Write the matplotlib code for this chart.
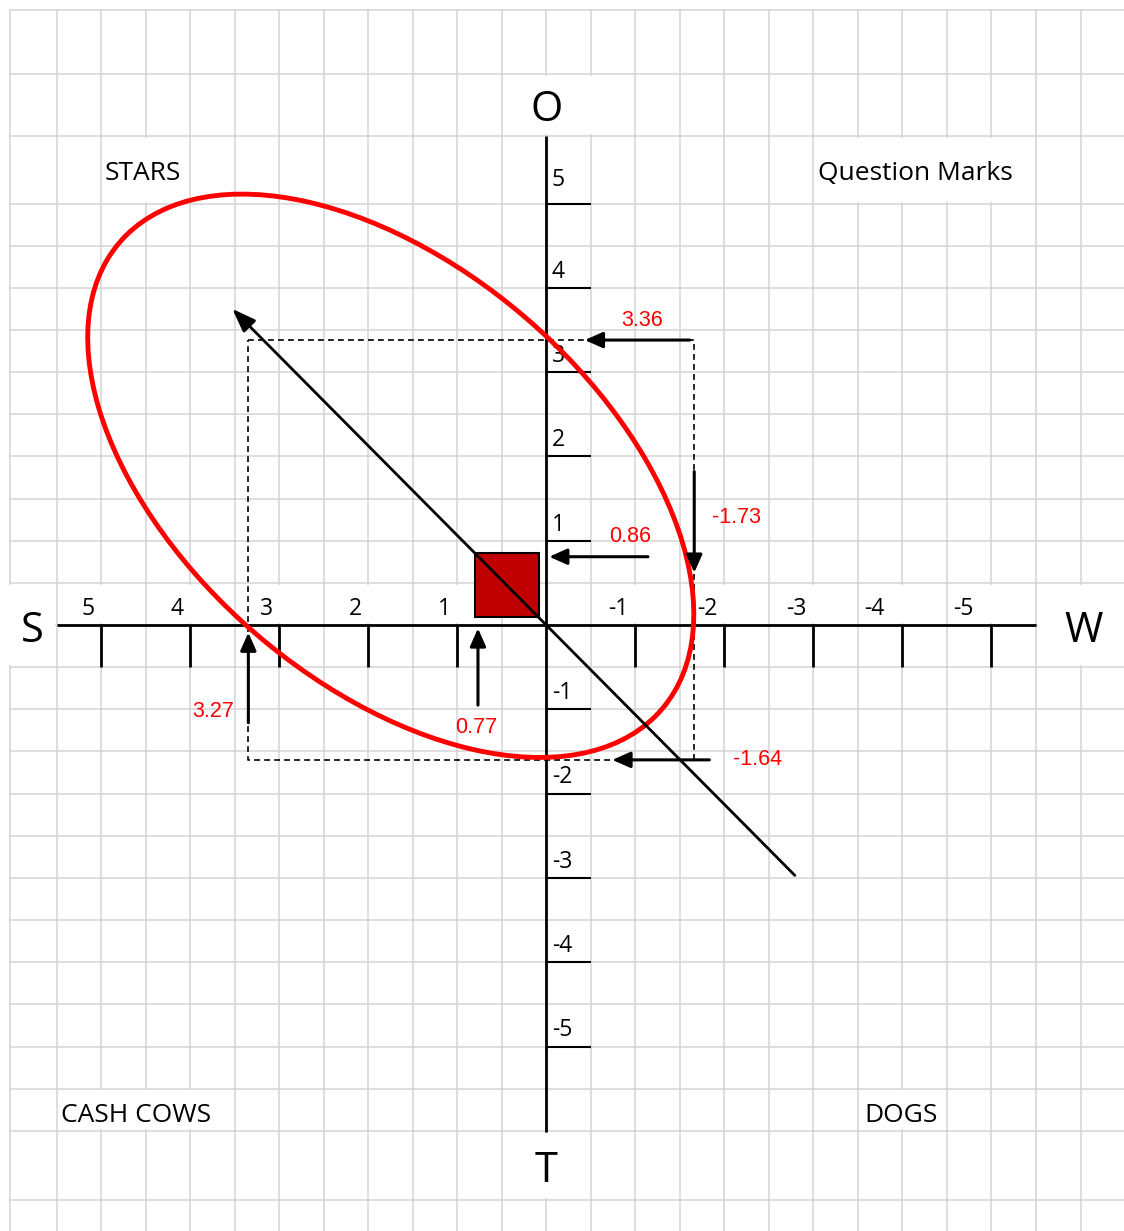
import numpy as np
import matplotlib.pyplot as plt
from matplotlib.patches import Ellipse, Rectangle

# scale marks on both axes
tick_values = [5, 4, 3, 2, 1, -1, -2, -3, -4, -5]
axis_names = ["S", "W", "O", "T"]
quadrant_names = ["STARS", "Question Marks", "CASH COWS", "DOGS"]

# totals written in red next to the arrows
score_labels = ["3.36", "-1.73", "0.86", "3.27", "0.77", "-1.64"]

# dashed box as drawn: S / W on x, O / T on y
box_x = [3.35, -1.66]
box_y = [3.38, -1.60]

# position marker (square) and direction line through the origin
square_x = [0.08, 0.80]
square_y = [0.10, 0.85]
vector_x = [-2.79, 3.53]
vector_y = [-2.97, 3.75]

# red ellipse around the strategy zone
ellipse_center = (1.75, 1.77)
ellipse_width = 8.24
ellipse_height = 4.81
ellipse_angle = 43.9

# arrows, start -> tip (same order as score_labels)
arrow_x0 = [-1.61, -1.66, -1.14, 3.35, 0.77, -1.83]
arrow_y0 = [3.38, 1.82, 0.81, -1.16, -0.95, -1.60]
arrow_x1 = [-0.43, -1.66, -0.03, 3.35, 0.77, -0.74]
arrow_y1 = [3.38, 0.62, 0.81, -0.09, -0.04, -1.60]

BLACK_FONT = ["Open Sans", "DejaVu Sans"]
RED_FONT = ["Liberation Sans", "DejaVu Sans"]
GRID = "#d4d4d4"

fig = plt.figure(figsize=(11.24, 12.31), dpi=100)
ax = fig.add_axes([0, 0, 1, 1])
x_left, x_right = 546.5 / 89.0, (546.5 - 1124) / 89.0
y_bot, y_top = (625 - 1231) / 84.3, 625 / 84.3
ax.set_xlim(x_left, x_right)
ax.set_ylim(y_bot, y_top)
ax.axis("off")

# spreadsheet grid behind everything
border_left, border_top = 6.03, 7.295
col_x = list(np.arange(-6.5, 5.51, 0.5)) + [border_left]
row_y = list(np.arange(-6.0, 5.01, 0.5)) + [5.80, 6.536, border_top, -6.82]
for gx in col_x:
    ax.plot([gx, gx], [y_bot, border_top], color=GRID, lw=1.1, zorder=1)
for gy in row_y:
    ax.plot([border_left, x_right], [gy, gy], color=GRID, lw=1.1, zorder=1)

# merged cells hide some grid lines
masks = [(5.0, 4.0, 5.0, 5.80), (-3.0, -5.5, 5.0, 5.80), (0.5, -1.0, 5.80, 6.536),
         (6.3, 5.5, -0.5, 0.5), (-5.5, -6.6, -0.5, 0.5), (5.5, 3.5, -6.0, -5.5),
         (-3.5, -4.5, -6.0, -5.5), (0.5, -0.5, -6.82, -6.01)]
masks += [(t + 0.1, t - 0.1, 0.0, 0.5) for t in tick_values]
for xa, xb, ya, yb in masks:
    x0, x1 = min(xa, xb) + 0.02, max(xa, xb) - 0.02
    ax.add_patch(Rectangle((x0, ya + 0.02), x1 - x0, yb - ya - 0.04,
                           fc="white", ec="none", zorder=1.5))

# dashed box
ax.plot([box_x[0], box_x[1], box_x[1], box_x[0], box_x[0]],
        [box_y[0], box_y[0], box_y[1], box_y[1], box_y[0]],
        color="black", lw=1.2, ls=(0, (3.5, 2.5)), zorder=2)

# axes with ticks
ax.plot([5.5, -5.5], [0, 0], color="black", lw=2, solid_capstyle="butt", zorder=3)
ax.plot([0, 0], [5.80, -6.01], color="black", lw=2, solid_capstyle="butt", zorder=3)
for t in tick_values:
    ax.plot([t, t], [0, -0.5], color="black", lw=2, solid_capstyle="butt", zorder=3)
    ax.plot([0, -0.5], [t, t], color="black", lw=1.5, solid_capstyle="butt", zorder=3)
    # the -4 / -5 labels sit a little further from their tick
    pad = 0.2 if t <= -4 else 0.075
    ax.text(t + pad, 0.12, str(t), ha="right", va="baseline",
            fontsize=16.5, family=BLACK_FONT, zorder=3.5)
    ax.text(-0.06, t + (0.21 if t == 5 else 0.12), str(t), ha="left", va="baseline",
            fontsize=16.5, family=BLACK_FONT, zorder=3.5)

name_pos = [(5.775, -0.20), (-6.03, -0.20), (0.0, 5.975), (0.0, -6.607)]
for name, (nx, ny) in zip(axis_names, name_pos):
    ax.text(nx, ny, name, ha="center", va="baseline", fontsize=30,
            family=BLACK_FONT, zorder=3.5)

quad_pos = [(4.96, 5.279), (-3.05, 5.279), (5.455, -5.89), (-3.567, -5.89)]
for name, (qx, qy) in zip(quadrant_names, quad_pos):
    ax.text(qx, qy, name, ha="left", va="baseline", fontsize=19,
            family=BLACK_FONT, zorder=3.5)

# square marker
ax.add_patch(Rectangle((square_x[0], square_y[0]), square_x[1] - square_x[0],
                       square_y[1] - square_y[0], fc="#c00000", ec="black",
                       lw=1.5, zorder=4))

# ellipse
ax.add_patch(Ellipse(ellipse_center, ellipse_width, ellipse_height,
                     angle=ellipse_angle, fill=False, ec="red", lw=3.5, zorder=5))

# direction vector
ax.annotate("", xy=(vector_x[1], vector_y[1]), xytext=(vector_x[0], vector_y[0]),
            arrowprops=dict(arrowstyle="-|>,head_length=0.6,head_width=0.22",
                            mutation_scale=24, lw=2, color="black",
                            shrinkA=0, shrinkB=0), zorder=6)

# score arrows
for i in range(len(score_labels)):
    ax.annotate("", xy=(arrow_x1[i], arrow_y1[i]), xytext=(arrow_x0[i], arrow_y0[i]),
                arrowprops=dict(arrowstyle="-|>,head_length=0.45,head_width=0.2",
                                mutation_scale=24, lw=2.2, color="black",
                                shrinkA=0, shrinkB=0), zorder=7)

label_pos = [(-1.07, 3.55), (-2.13, 1.21), (-0.94, 0.98),
             (3.75, -1.09), (0.79, -1.285), (-2.37, -1.66)]
for lab, (lx, ly) in zip(score_labels, label_pos):
    ax.text(lx, ly, lab, ha="center", va="baseline", fontsize=15.5,
            color="red", family=RED_FONT, zorder=8)

fig.savefig("out.png", dpi=100)
